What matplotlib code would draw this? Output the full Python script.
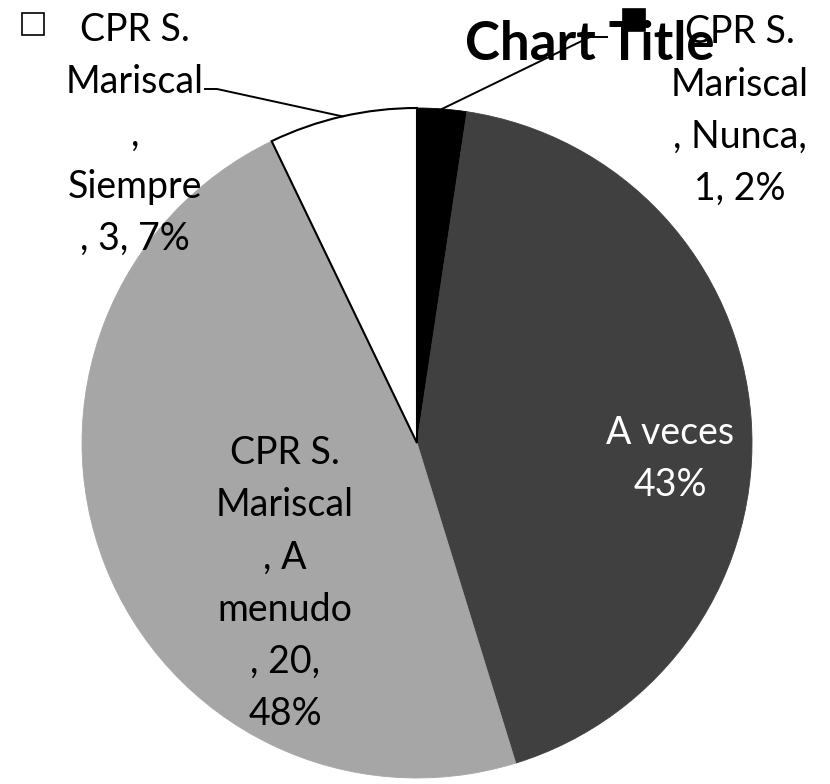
import numpy as np
import matplotlib.pyplot as plt
from matplotlib.patches import Rectangle

# data
series = 'CPR S. Mariscal'
categories = ['Nunca', 'A veces', 'A menudo', 'Siempre']
counts = [1, 18, 20, 3]
colors = ['#000000', '#404040', '#a6a6a6', '#ffffff']

W, H = 830, 784
CX, CY, R = 417, 443, 335

plt.rcParams['font.family'] = ['Lato', 'DejaVu Sans']


def px(x, y):
    """pixel position (from top-left) -> pie data coords"""
    return (x - CX) / R, (CY - y) / R


total = sum(counts)
pcts = [round(100 * c / total) for c in counts]

fig = plt.figure(figsize=(W / 100, H / 100), dpi=100)
ax = fig.add_axes([(CX - R) / W, (H - CY - R) / H, 2 * R / W, 2 * R / H])
wedges, _ = ax.pie(counts, colors=colors, startangle=90, counterclock=False,
                   radius=1, wedgeprops=dict(linewidth=0.6))
for w, c in zip(wedges, colors):
    w.set_edgecolor(c)
wedges[3].set_edgecolor('black')
wedges[3].set_linewidth(1.5)
ax.set_xlim(-1, 1)
ax.set_ylim(-1, 1)
ax.axis('off')

fs = 27
ls = 1.56

# data labels (wrapped the way the original chart wraps them)
lab_nunca = '\n'.join(['CPR S.', 'Mariscal', f', {categories[0]},', f'{counts[0]}, {pcts[0]}%'])
lab_veces = f'{categories[1]}\n{pcts[1]}%'
lab_menudo = '\n'.join(['CPR S.', 'Mariscal', ', A', 'menudo', f', {counts[2]},', f'{pcts[2]}%'])
lab_siempre = '\n'.join(['CPR S.', 'Mariscal', ',', categories[3], f', {counts[3]}, {pcts[3]}%'])

# y is the baseline of the last line
ax.text(*px(740, 200), lab_nunca, ha='center', va='baseline', fontsize=fs, linespacing=ls)
ax.text(*px(670, 496), lab_veces, ha='center', va='baseline', fontsize=fs, linespacing=ls,
        color='white')
ax.text(*px(285, 725), lab_menudo, ha='center', va='baseline', fontsize=fs, linespacing=ls)
ax.text(*px(135, 250), lab_siempre, ha='center', va='baseline', fontsize=fs, linespacing=ls)

# legend keys in labels
for (x, y), fc in [((22, 35), 'white'), ((623, 31), 'black')]:
    x0, y0 = px(x, y)
    ax.add_patch(Rectangle((x0, y0), 22 / R, 22 / R, facecolor=fc, edgecolor='black',
                           linewidth=1.2, clip_on=False))

# leader lines
for i, pts in [(0, [(590, 37), (607, 37)]), (3, [(217, 89), (205, 89)])]:
    th = np.deg2rad((wedges[i].theta1 + wedges[i].theta2) / 2)
    xs = [np.cos(th)] + [px(*p)[0] for p in pts]
    ys = [np.sin(th)] + [px(*p)[1] for p in pts]
    ax.plot(xs, ys, color='black', linewidth=1.4, clip_on=False)

fig.text(590 / W, 1 - 45 / H, 'Chart Title', ha='center', va='center', fontsize=38,
         fontweight='bold')

fig.savefig('out.png', dpi=100)
